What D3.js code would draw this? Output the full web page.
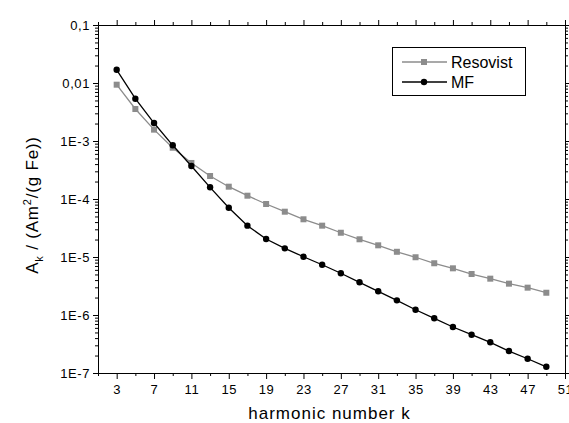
<!DOCTYPE html>
<html>
<head>
<meta charset="utf-8">
<script src="https://cdn.jsdelivr.net/npm/d3@7.9.0/dist/d3.min.js"></script>
<style>
  body { margin: 0; background: #fff; }
  svg { display: block; font-family: "Liberation Sans", Arial, sans-serif; }
</style>
</head>
<body>
<svg id="chart" width="569" height="423"></svg>
<script>
// harmonic numbers (odd k)
const harmonics = [3, 5, 7, 9, 11, 13, 15, 17, 19, 21, 23, 25, 27, 29, 31, 33, 35, 37, 39, 41, 43, 45, 47, 49];

// A_k in Am^2/(g Fe)
const resovist = [9.35e-3, 3.56e-3, 1.57e-3, 7.66e-4, 4.18e-4, 2.49e-4, 1.63e-4, 1.14e-4, 8.2e-5, 6.04e-5,
  4.47e-5, 3.47e-5, 2.62e-5, 2.02e-5, 1.59e-5, 1.23e-5, 9.9e-6, 7.8e-6, 6.38e-6, 5.09e-6,
  4.23e-6, 3.47e-6, 2.96e-6, 2.42e-6];
const mf = [1.69e-2, 5.36e-3, 2.04e-3, 8.43e-4, 3.71e-4, 1.59e-4, 7.08e-5, 3.47e-5, 2.04e-5, 1.41e-5,
  1.01e-5, 7.36e-6, 5.24e-6, 3.66e-6, 2.56e-6, 1.79e-6, 1.23e-6, 8.77e-7, 6.21e-7, 4.57e-7,
  3.38e-7, 2.39e-7, 1.76e-7, 1.28e-7];

const xMajor = [3, 7, 11, 15, 19, 23, 27, 31, 35, 39, 43, 47, 51];
const xMinor = [1, 5, 9, 13, 17, 21, 25, 29, 33, 37, 41, 45, 49];
const yMajor = [1e-7, 1e-6, 1e-5, 1e-4, 1e-3, 1e-2, 1e-1];
const yLabels = ['1E-7', '1E-6', '1E-5', '1E-4', '1E-3', '0,01', '0,1'];

const series = [
  { name: 'Resovist', values: resovist, color: '#8c8c8c', shape: 'square' },
  { name: 'MF', values: mf, color: '#000000', shape: 'circle' },
];

const plotLeft = 98, plotRight = 565, plotTop = 25, plotBottom = 373;

const x = d3.scaleLinear().domain([1, 51]).range([plotLeft, plotRight]);
const y = d3.scaleLog().domain([1e-7, 0.1]).range([plotBottom, plotTop]);

const yMinor = [];
yMajor.slice(0, -1).forEach(d => {
  for (let m = 2; m <= 9; m++) yMinor.push(d * m);
});

const svg = d3.select('#chart');

// axes: left/bottom with outward ticks, top/right with inward ticks
function drawAxis(axis, transform, cls) {
  const g = svg.append('g').attr('transform', transform).attr('class', cls).call(axis);
  g.select('.domain').attr('stroke', '#000').attr('stroke-width', 1);
  g.selectAll('.tick line').attr('stroke', '#000');
  return g;
}

const yLab = d => yLabels[yMajor.findIndex(v => Math.abs(Math.log10(v) - Math.log10(d)) < 1e-6)];

const gL = drawAxis(d3.axisLeft(y).tickValues(yMajor).tickFormat(yLab).tickSize(5).tickPadding(3).tickSizeOuter(0),
  `translate(${plotLeft},0)`, 'y-left');
gL.selectAll('text').attr('font-size', 13).attr('fill', '#000').style('letter-spacing', '0.6px')
  .attr('font-family', '"Liberation Sans", Arial, sans-serif');
drawAxis(d3.axisLeft(y).tickValues(yMinor).tickFormat('').tickSize(3).tickSizeOuter(0),
  `translate(${plotLeft},0)`, 'y-left-minor');

drawAxis(d3.axisLeft(y).tickValues(yMajor).tickFormat('').tickSize(-5).tickSizeOuter(0),
  `translate(${plotRight},0)`, 'y-right');
drawAxis(d3.axisLeft(y).tickValues(yMinor).tickFormat('').tickSize(-3).tickSizeOuter(0),
  `translate(${plotRight},0)`, 'y-right-minor');

const gB = drawAxis(d3.axisBottom(x).tickValues(xMajor).tickFormat(d3.format('d')).tickSize(6).tickPadding(6).tickSizeOuter(0),
  `translate(0,${plotBottom})`, 'x-bottom');
gB.selectAll('text').attr('font-size', 13).attr('fill', '#000').style('letter-spacing', '0.6px')
  .attr('font-family', '"Liberation Sans", Arial, sans-serif');
drawAxis(d3.axisBottom(x).tickValues(xMinor).tickFormat('').tickSize(3).tickSizeOuter(0),
  `translate(0,${plotBottom})`, 'x-bottom-minor');

drawAxis(d3.axisBottom(x).tickValues(xMajor).tickFormat('').tickSize(-5).tickSizeOuter(0),
  `translate(0,${plotTop})`, 'x-top');
drawAxis(d3.axisBottom(x).tickValues(xMinor).tickFormat('').tickSize(-3).tickSizeOuter(0),
  `translate(0,${plotTop})`, 'x-top-minor');

// series
const line = d3.line().x(d => x(d[0])).y(d => y(d[1]));

function drawMarker(g, shape, color, cx, cy) {
  if (shape === 'square') {
    g.append('rect').attr('x', cx - 3).attr('y', cy - 3).attr('width', 6).attr('height', 6).attr('fill', color);
  } else {
    g.append('circle').attr('cx', cx).attr('cy', cy).attr('r', 3.2).attr('fill', color);
  }
}

series.forEach(s => {
  const pts = harmonics.map((k, i) => [k, s.values[i]]);
  const g = svg.append('g');
  g.append('path').datum(pts).attr('d', line)
    .attr('fill', 'none').attr('stroke', s.color).attr('stroke-width', 1.3);
  pts.forEach(p => drawMarker(g, s.shape, s.color, x(p[0]), y(p[1])));
});

// legend
const lg = svg.append('g');
lg.append('rect').attr('x', 392.5).attr('y', 47.5).attr('width', 133).attr('height', 48)
  .attr('fill', '#fff').attr('stroke', '#000').attr('stroke-width', 1);
series.forEach((s, i) => {
  const ly = 62 + i * 20;
  lg.append('line').attr('x1', 402).attr('x2', 447).attr('y1', ly).attr('y2', ly)
    .attr('stroke', s.color).attr('stroke-width', 1.3);
  drawMarker(lg, s.shape, s.color, 424, ly);
  lg.append('text').attr('x', 451).attr('y', ly).attr('dy', '0.36em')
    .attr('font-size', 16).attr('fill', '#000').text(s.name);
});

// axis titles
svg.append('text').attr('x', (plotLeft + plotRight) / 2 - 2).attr('y', 419)
  .attr('text-anchor', 'middle').attr('font-size', 17).style('letter-spacing', '1px')
  .text('harmonic number k');

const yt = svg.append('text').attr('transform', `translate(38,${(plotTop + plotBottom) / 2 + 6}) rotate(-90)`)
  .attr('text-anchor', 'middle').attr('font-size', 17).style('letter-spacing', '0.8px');
yt.append('tspan').text('A');
yt.append('tspan').attr('font-size', 11).attr('dy', 5).text('k');
yt.append('tspan').attr('dy', -5).text(' / (Am');
yt.append('tspan').attr('font-size', 11).attr('dy', -7).text('2');
yt.append('tspan').attr('dy', 7).text('/(g Fe))');
</script>
</body>
</html>
